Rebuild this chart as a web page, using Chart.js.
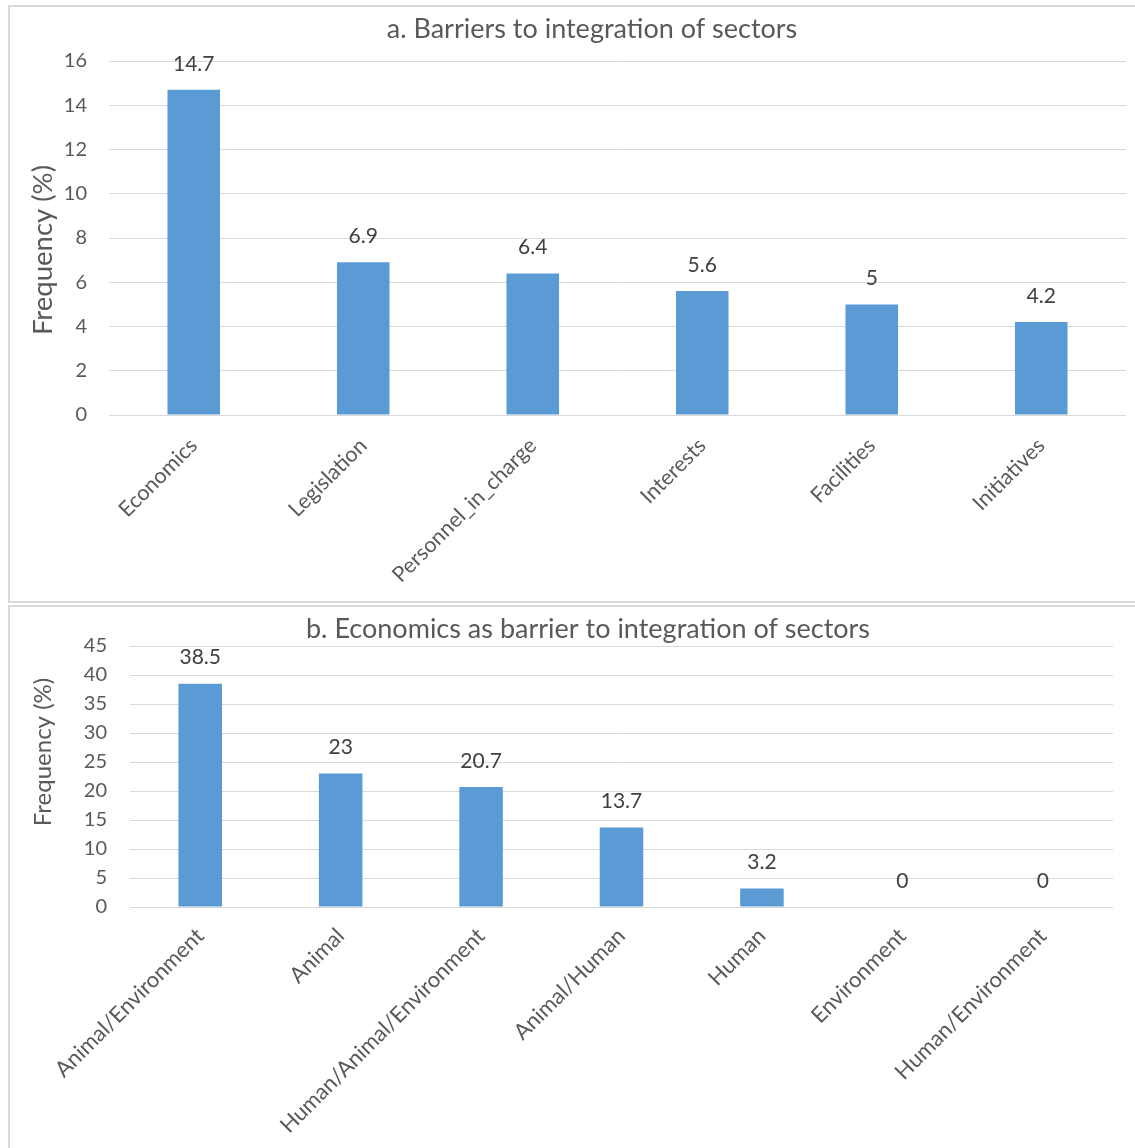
<!DOCTYPE html>
<html>
<head>
<meta charset="utf-8">
<script src="https://cdn.jsdelivr.net/npm/chart.js@4.4.0/dist/chart.umd.min.js"></script>
<style>
  body { margin: 0; background: #fff; overflow: hidden; }
  .panel { position: absolute; left: 8px; width: 1140px; border: 2px solid #d9d9d9; background: #fff; }
  #panelA { top: 5px; height: 594px; }
  #panelB { top: 605px; height: 560px; }
  canvas { display: block; }
</style>
</head>
<body>
<div class="panel" id="panelA"><canvas id="chartA" width="1125" height="594"></canvas></div>
<div class="panel" id="panelB"><canvas id="chartB" width="1125" height="541"></canvas></div>
<script>
// top chart: barriers
const barrierLabels = ["Economics", "Legislation", "Personnel_in_charge", "Interests", "Facilities", "Initiatives"];
const barrierValues = [14.7, 6.9, 6.4, 5.6, 5, 4.2];

// bottom chart: economics by sector
const sectorLabels = ["Animal/Environment", "Animal", "Human/Animal/Environment", "Animal/Human", "Human", "Environment", "Human/Environment"];
const sectorValues = [38.5, 23, 20.7, 13.7, 3.2, 0, 0];

const FONT = "Lato, 'Open Sans', sans-serif";
const BAR = "#5b9bd5";
const GRID = "#d9d9d9";
const TEXT = "#595959";

// draws the value above each bar
const valueLabels = {
    id: "valueLabels",
    afterDatasetsDraw(chart) {
        const ctx = chart.ctx;
        const meta = chart.getDatasetMeta(0);
        const values = chart.data.datasets[0].data;
        ctx.save();
        ctx.font = "21px " + FONT;
        ctx.fillStyle = "#404040";
        ctx.textAlign = "center";
        ctx.textBaseline = "middle";
        meta.data.forEach((bar, i) => {
            ctx.fillText(String(values[i]), bar.x, bar.y - 26);
        });
        ctx.restore();
    }
};

// chart title and y axis title, placed like the original (not centred on the plot)
const panelTitles = {
    id: "panelTitles",
    afterDraw(chart, args, opts) {
        const ctx = chart.ctx;
        ctx.save();
        ctx.fillStyle = TEXT;
        ctx.textAlign = "center";
        ctx.textBaseline = "middle";
        ctx.font = "27px " + FONT;
        ctx.fillText(opts.title, opts.titleX, 22);
        ctx.translate(33, opts.yTitleY);
        ctx.rotate(-Math.PI / 2);
        ctx.font = opts.yTitleSize + "px " + FONT;
        ctx.fillText("Frequency (%)", 0, 0);
        ctx.restore();
    }
};

function makeChart(id, labels, values, cfg) {
    return new Chart(document.getElementById(id), {
        type: "bar",
        data: {
            labels: labels,
            datasets: [{
                data: values,
                backgroundColor: BAR,
                categoryPercentage: 1,
                barPercentage: 0.31,
            }],
        },
        options: {
            responsive: false,
            animation: false,
            layout: { padding: { left: 0, right: cfg.padRight, top: cfg.padTop, bottom: 0 } },
            plugins: {
                legend: { display: false },
                tooltip: { enabled: false },
                title: { display: false },
                panelTitles: {
                    title: cfg.title,
                    titleX: cfg.titleX,
                    yTitleY: cfg.yTitleY,
                    yTitleSize: cfg.yTitleSize,
                },
            },
            scales: {
                x: {
                    grid: { display: false, drawTicks: false },
                    border: { display: false },
                    ticks: {
                        color: TEXT,
                        font: { family: FONT, size: cfg.xFont },
                        maxRotation: 45,
                        minRotation: 45,
                        padding: cfg.xPad,
                    },
                    afterFit(scale) { scale.height = cfg.xHeight; },
                },
                y: {
                    min: 0,
                    max: cfg.max,
                    grid: { color: GRID, lineWidth: 1, drawTicks: false },
                    border: { display: false },
                    ticks: {
                        stepSize: cfg.step,
                        color: TEXT,
                        font: { family: FONT, size: 20 },
                        padding: cfg.tickPad,
                    },
                    afterFit(scale) { scale.width = cfg.yWidth; },
                },
            },
        },
        plugins: [valueLabels, panelTitles],
    });
}

makeChart("chartA", barrierLabels, barrierValues, {
    title: "a. Barriers to integration of sectors",
    titleX: 582,
    padTop: 54,
    max: 16, step: 2,
    padRight: 9,
    xHeight: 186,
    xFont: 21.5,
    xPad: 18,
    yWidth: 99,
    tickPad: 22,
    yTitleSize: 27.5,
    yTitleY: 243,
});

makeChart("chartB", sectorLabels, sectorValues, {
    title: "b. Economics as barrier to integration of sectors",
    titleX: 578,
    padTop: 39,
    max: 45, step: 5,
    padRight: 22,
    xHeight: 241,
    xFont: 22,
    xPad: 16,
    yWidth: 120,
    tickPad: 23,
    yTitleSize: 24,
    yTitleY: 145,
});
</script>
</body>
</html>
